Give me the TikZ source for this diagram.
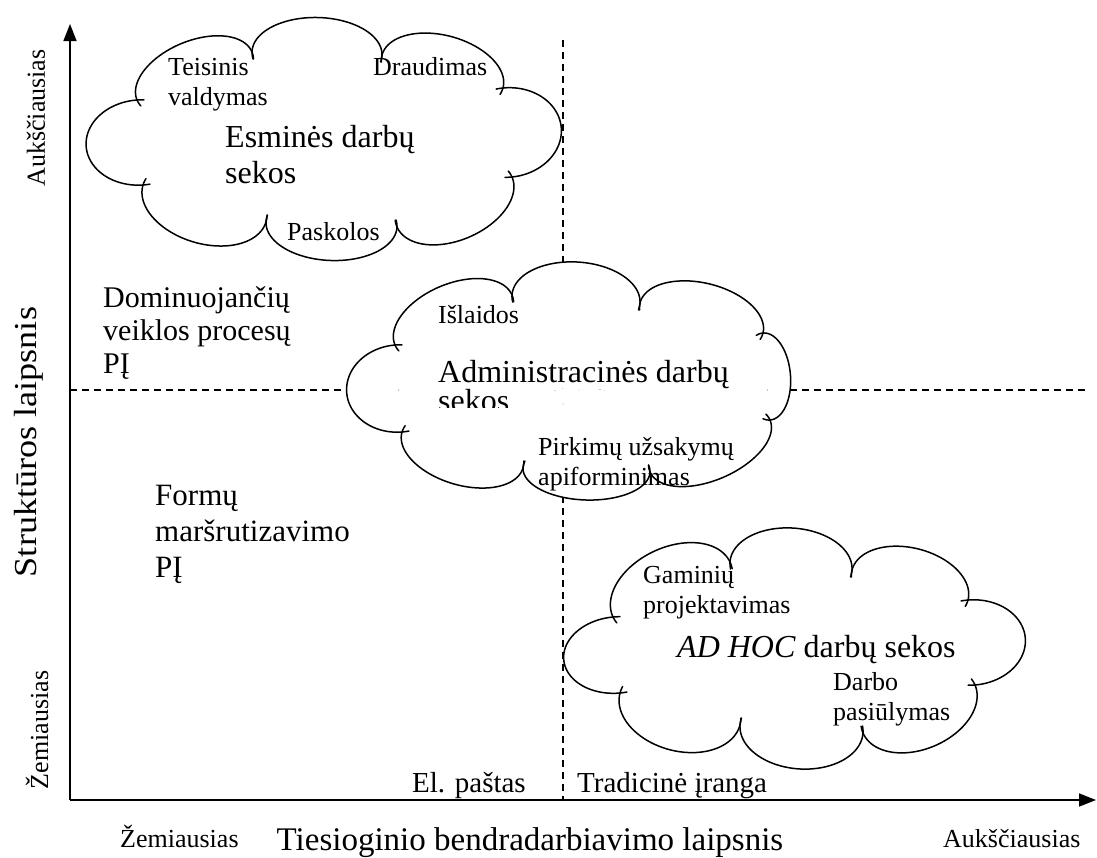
\documentclass[tikz,border=0pt]{standalone}
\usepackage{fontspec}
\setmainfont{Liberation Serif}
\usetikzlibrary{arrows.meta}

% shape of every cloud bump: elliptic arc, ends turned by \tz degrees,
% each end carried on by \ext so that neighbouring arcs cross
\def\tz{0}
\def\ext{7}

% #1,#2 start joint, #3,#4 end joint, #5 height of the bump
\newcommand\bumpcalc[5]{%
  \pgfmathsetmacro\bdx{#3-(#1)}%
  \pgfmathsetmacro\bdy{#4-(#2)}%
  \pgfmathsetmacro\bc{veclen(\bdx,\bdy)}%
  \pgfmathsetmacro\bux{\bdx/\bc}%
  \pgfmathsetmacro\buy{\bdy/\bc}%
  \pgfmathsetmacro\bnx{\buy}%
  \pgfmathsetmacro\bny{-\bux}%
  \pgfmathsetmacro\ba{\bc/(2*cos(\tz))}%
  \pgfmathsetmacro\bb{#5/(1-sin(\tz))}%
  \pgfmathsetmacro\bOx{(#1+#3)/2-\bnx*\bb*sin(\tz)}%
  \pgfmathsetmacro\bOy{(#2+#4)/2-\bny*\bb*sin(\tz)}%
  \pgfmathsetmacro\pxA{\bux*\ba}%
  \pgfmathsetmacro\pxB{\bnx*\bb}%
  \pgfmathsetmacro\pyA{\buy*\ba}%
  \pgfmathsetmacro\pyB{\bny*\bb}%
  \pgfmathsetmacro\bspd{veclen(\ba*sin(\tz),\bb*cos(\tz))}%
  \pgfmathsetmacro\bdl{\ext/\bspd*57.2958}%
  \pgfmathsetmacro\tlo{\tz-\bdl}%
  \pgfmathsetmacro\thi{180-\tz+\bdl}%
  \pgfmathsetmacro\tfa{\tz}%
  \pgfmathsetmacro\tfb{180-\tz}%
}

% #1 centre of the cloud, #2 list of bumps Ax/Ay/Bx/By/height
\newcommand\drawcloud[2]{%
  \foreach \ax/\ay/\bx/\by/\bh in {#2}{%
    \bumpcalc{\ax}{\ay}{\bx}{\by}{\bh}
    \fill[white] (#1) -- (\ax,\ay) -- (\bx,\by) -- cycle;
    \fill[white] plot[variable=\t, domain=\tfa:\tfb, samples=40, smooth]
      ({\bOx+\pxA*cos(\t)+\pxB*sin(\t)},{\bOy+\pyA*cos(\t)+\pyB*sin(\t)}) -- cycle;
  }
  \foreach \ax/\ay/\bx/\by/\bh in {#2}{%
    \bumpcalc{\ax}{\ay}{\bx}{\by}{\bh}
    \draw[cloudline] plot[variable=\t, domain=\tlo:\thi, samples=50, smooth]
      ({\bOx+\pxA*cos(\t)+\pxB*sin(\t)},{\bOy+\pyA*cos(\t)+\pyB*sin(\t)});
  }
}

\begin{document}
\begin{tikzpicture}[x=1pt, y=-1pt,
  axis/.style={line width=1.6pt, -{Triangle[length=17pt, width=13pt]}},
  divider/.style={line width=1.1pt, dash pattern=on 7pt off 5pt},
  cloudline/.style={line width=1.5pt, line cap=round},
  txt/.style={inner sep=0pt, anchor=base west},
  fsz/.style={font=\fontsize{#1}{#1}\selectfont}]

\useasboundingbox (0,0) rectangle (1097,857);

% dashed dividers of the four fields
\coordinate (h1) at (70,390);
\coordinate (h2) at (1085,390);
\coordinate (v1) at (563,40);
\coordinate (v2) at (563,800);
\draw[divider] (h1) -- (h2);
\draw[divider] (v1) -- (v2);

% axes
\coordinate (O) at (70,800);
\coordinate (ytop) at (70,24);
\coordinate (xend) at (1096,800);
\draw[axis] (O) -- (ytop);
\draw[axis] (O) -- (xend);

% clouds
\coordinate (c1) at (320,140);
\coordinate (c2) at (575,385);
\coordinate (c3) at (795,650);
\drawcloud{c1}{137/100/252/52/35, 252/52/382/55/36, 382/55/503/88/36,
  503/88/512/177/54, 512/177/397/227/38, 397/227/266/222/36,
  266/222/143/185/40, 143/185/137/100/54}
\drawcloud{c2}{395/345/512/295/36, 512/295/640/303/37, 640/303/763/333/35,
  763/333/770/420/24, 770/420/650/472/34, 650/472/523/468/30,
  523/468/402/432/35, 402/432/395/345/52}
\drawcloud{c3}{613/617/730/562/42, 730/562/852/570/38, 852/570/968/600/37,
  968/600/975/685/54, 975/685/863/733/40, 863/733/740/725/40,
  740/725/620/693/42, 620/693/613/617/53}

% texts of the first cloud
\node[txt, fsz=26] (teis1) at (168,75) {Teisinis};
\node[txt, fsz=26] (teis2) at (168,105) {valdymas};
\node[txt, fsz=26] (draud) at (373,75) {Draudimas};
\node[txt, fsz=32] (esm1) at (225,147) {Esminės darbų};
\node[txt, fsz=32] (esm2) at (225,183) {sekos};
\node[txt, fsz=26] (pask) at (287,240) {Paskolos};

% texts of the second cloud
\node[txt, fsz=26] (isl) at (438,323) {Išlaidos};
\node[txt, fsz=32] (adm1) at (438,382) {Administracinės darbų};
\begin{scope}
  \clip (430,385) rectangle (540,407);
  \node[txt, fsz=32] (adm2) at (438,411) {sekos};
\end{scope}
\node[txt, fsz=26] (pirk1) at (538,455) {Pirkimų užsakymų};
\node[txt, fsz=26] (pirk2) at (538,485) {apiforminimas};

% texts of the third cloud
\node[txt, fsz=26] (gam1) at (643,583) {Gaminių};
\node[txt, fsz=26] (gam2) at (643,613) {projektavimas};
\node[txt, fsz=32] (adhoc) at (677,657) {\textit{AD HOC} darbų sekos};
\node[txt, fsz=26] (darb1) at (833,690) {Darbo};
\node[txt, fsz=26] (darb2) at (833,720) {pasiūlymas};

% texts of the left fields
\node[txt, fsz=30] (dom1) at (103,307) {Dominuojančių};
\node[txt, fsz=30] (dom2) at (103,340) {veiklos procesų};
\node[txt, fsz=30] (dom3) at (103,373) {PĮ};
\node[txt, fsz=31] (form1) at (155,505) {Formų};
\node[txt, fsz=31] (form2) at (155,541) {maršrutizavimo};
\node[txt, fsz=31] (form3) at (155,577) {PĮ};

% texts along the horizontal axis
\node[txt, fsz=29] (el) at (412,792) {El. paštas};
\node[txt, fsz=29] (trad) at (577,792) {Tradicinė įranga};
\node[txt, fsz=26] (xlow) at (120,847) {Žemiausias};
\node[inner sep=0pt, anchor=base, fsz=33] (xlab) at (530,850) {Tiesioginio bendradarbiavimo laipsnis};
\node[txt, fsz=26] (xhigh) at (943,847) {Aukščiausias};

% texts along the vertical axis
\node[inner sep=0pt, rotate=90, fsz=26] (yhigh) at (36,118) {Aukščiausias};
\node[inner sep=0pt, rotate=90, fsz=32] (ylab) at (29,442) {\scalebox{1.13}[1]{Struktūros laipsnis}};
\node[inner sep=0pt, rotate=90, fsz=26] (ylow) at (37,730) {Žemiausias};
\end{tikzpicture}
\end{document}
